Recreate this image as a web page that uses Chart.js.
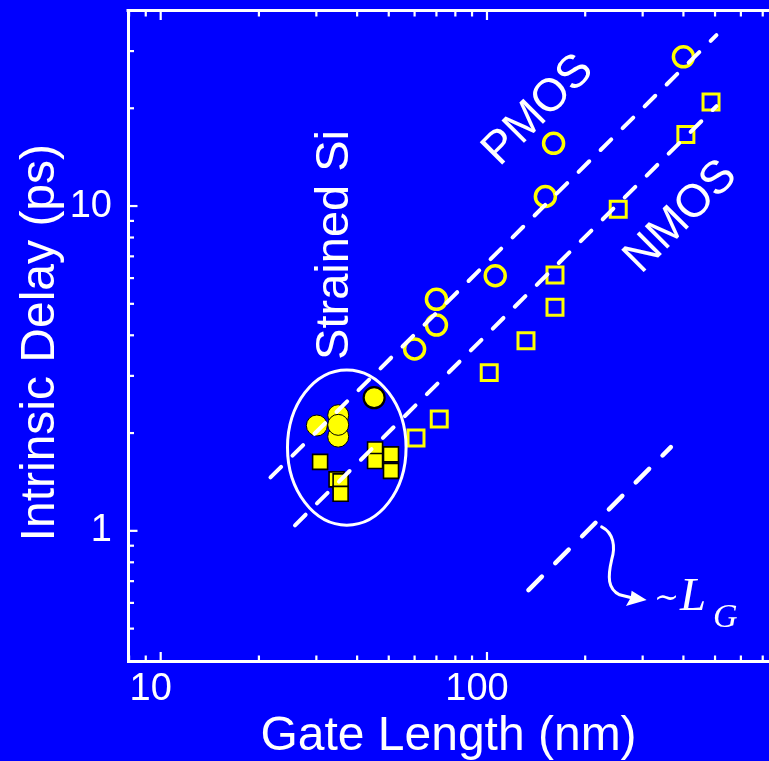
<!DOCTYPE html>
<html>
<head>
<meta charset="utf-8">
<title>Intrinsic delay vs gate length</title>
<script src="https://cdn.jsdelivr.net/npm/chart.js@4.4.1/dist/chart.umd.min.js"></script>
<style>
  html, body { margin: 0; padding: 0; background: #0000ff; overflow: hidden; }
  #wrap { position: relative; width: 769px; height: 761px; }
</style>
</head>
<body>
<div id="wrap"><canvas id="chart"></canvas></div>
<script>
// Intrinsic delay vs. gate length, log-log

// Data (gate length in nm, delay in ps)
const pmosGate = [60, 70, 70, 106, 151, 160, 400];
const pmosDelay = [3.63, 4.30, 5.16, 6.10, 10.7, 15.6, 28.8];

const nmosGate = [60.6, 71.4, 101.6, 131.7, 161.6, 161.6, 252.5, 407, 486];
const nmosDelay = [1.93, 2.21, 3.07, 3.85, 4.88, 6.13, 9.77, 16.6, 20.9];

const strainedPGate = [30.1, 35.0, 35.0, 35.0, 45.1];
const strainedPDelay = [2.11, 2.27, 1.95, 2.12, 2.57];

const strainedNGate = [30.8, 34.6, 35.6, 35.6, 45.4, 45.4, 50.8, 50.8];
const strainedNDelay = [1.63, 1.44, 1.42, 1.30, 1.78, 1.64, 1.72, 1.53];

// dashed guide lines (end points)
const pmosFitGate = [21.7, 505];
const pmosFitDelay = [1.46, 33.6];
const nmosFitGate = [25.8, 505];
const nmosFitDelay = [1.04, 20.3];
const slopeGate = [134, 366];
const slopeDelay = [0.657, 1.81];

// axes
const xRange = [7.94, 731.7];
const yRange = [0.396, 40];
const xTickValues = [8, 9, 10, 20, 30, 40, 50, 60, 70, 80, 90, 100, 200, 300, 400, 500, 600, 700];
const xTickLabels = [10, 100];
const yTickValues = [0.5, 0.6, 0.7, 0.8, 0.9, 1, 2, 3, 4, 5, 6, 7, 8, 9, 10, 20, 30];
const yTickLabels = [1, 10];

// annotations, placed in data coordinates
const ellipseGate = [24.47, 56.5];
const ellipseDelay = [1.041, 3.13];
const noteText = ['Strained Si', 'PMOS', 'NMOS'];
const noteGate = [34.2, 143.8, 393];
const noteDelay = [7.59, 19.7, 9.25];
const noteAngle = [-90, -45, -45];
const arrowStart = {x: 224.6, y: 1.029};
const slopeNote = {x: 327.3, y: 0.570};

const WHITE = '#ffffff';
const YELLOW = '#ffff00';
const BLUE = '#0000ff';
const SANS = "'Liberation Sans', Arial, sans-serif";
const SERIF = "'Liberation Serif', 'Times New Roman', serif";

function toPoints(xs, ys) {
    return xs.map((v, i) => ({x: v, y: ys[i]}));
}

function isDecade(v) {
    const l = Math.log10(v);
    return Math.abs(l - Math.round(l)) < 1e-9;
}

// background, inward ticks, frame top and the hand-drawn notes
const overlay = {
    id: 'overlay',
    beforeDraw(chart) {
        const ctx = chart.ctx;
        ctx.save();
        ctx.fillStyle = BLUE;
        ctx.fillRect(0, 0, chart.width, chart.height);
        ctx.restore();
    },
    afterDatasetsDraw(chart) {
        const {ctx, chartArea: a, scales: {x, y}} = chart;
        ctx.save();
        ctx.strokeStyle = WHITE;
        ctx.fillStyle = WHITE;

        // top frame line
        ctx.lineWidth = 3;
        ctx.beginPath();
        ctx.moveTo(a.left - 1.5, a.top);
        ctx.lineTo(a.right, a.top);
        ctx.stroke();

        // ticks point into the plot
        ctx.lineWidth = 2.2;
        x.ticks.forEach(t => {
            const px = x.getPixelForValue(t.value);
            const len = isDecade(t.value) ? 9.5 : 6;
            ctx.beginPath();
            ctx.moveTo(px, a.bottom);
            ctx.lineTo(px, a.bottom - len);
            ctx.moveTo(px, a.top);
            ctx.lineTo(px, a.top + len);
            ctx.stroke();
        });
        y.ticks.forEach(t => {
            const py = y.getPixelForValue(t.value);
            const len = isDecade(t.value) ? 9.5 : 6;
            ctx.beginPath();
            ctx.moveTo(a.left, py);
            ctx.lineTo(a.left + len, py);
            ctx.stroke();
        });

        // ellipse round the strained Si points
        const ex0 = x.getPixelForValue(ellipseGate[0]);
        const ex1 = x.getPixelForValue(ellipseGate[1]);
        const ey0 = y.getPixelForValue(ellipseDelay[0]);
        const ey1 = y.getPixelForValue(ellipseDelay[1]);
        ctx.lineWidth = 3;
        ctx.beginPath();
        ctx.ellipse((ex0 + ex1) / 2, (ey0 + ey1) / 2, (ex1 - ex0) / 2, (ey0 - ey1) / 2, 0, 0, Math.PI * 2);
        ctx.stroke();

        // text notes
        ctx.textAlign = 'center';
        ctx.textBaseline = 'middle';
        noteText.forEach((txt, i) => {
            ctx.save();
            ctx.translate(x.getPixelForValue(noteGate[i]), y.getPixelForValue(noteDelay[i]));
            ctx.rotate(noteAngle[i] * Math.PI / 180);
            ctx.font = (i === 0 ? '47px ' : '46px ') + SANS;
            ctx.fillText(txt, 0, 0);
            ctx.restore();
        });

        // curved arrow from the slope line to its label
        const ax = x.getPixelForValue(arrowStart.x);
        const ay = y.getPixelForValue(arrowStart.y);
        ctx.lineWidth = 3;
        ctx.lineCap = 'round';
        ctx.beginPath();
        ctx.moveTo(ax, ay);
        ctx.bezierCurveTo(ax + 12, ay + 6, ax + 14, ay + 20, ax + 10, ay + 33);
        ctx.bezierCurveTo(ax + 6, ay + 50, ax + 6, ay + 62, ax + 18, ay + 68);
        ctx.lineTo(ax + 30, ay + 71);
        ctx.stroke();
        ctx.beginPath();
        ctx.moveTo(ax + 45, ay + 73.3);
        ctx.lineTo(ax + 24.3, ay + 79.3);
        ctx.lineTo(ax + 29, ay + 71);
        ctx.lineTo(ax + 30, ay + 64);
        ctx.closePath();
        ctx.fill();

        // ~L_G
        const sx = x.getPixelForValue(slopeNote.x);
        const sy = y.getPixelForValue(slopeNote.y);
        ctx.textAlign = 'left';
        ctx.textBaseline = 'alphabetic';
        ctx.font = "30px 'DejaVu Serif', serif";
        ctx.fillText('\u223C', sx - 1, sy - 3);
        ctx.font = 'italic 47px ' + SERIF;
        ctx.fillText('L', sx + 25, sy);
        ctx.font = 'italic 34px ' + SERIF;
        ctx.fillText('G', sx + 58, sy + 17);

        ctx.restore();
    }
};

const guide = {
    showLine: true,
    borderColor: WHITE,
    borderWidth: 4,
    borderDash: [15, 16],
    borderCapStyle: 'round',
    pointRadius: 0,
    fill: false,
    order: 0
};

new Chart(document.getElementById('chart'), {
    type: 'scatter',
    data: {
        datasets: [
            Object.assign({label: 'PMOS fit', data: toPoints(pmosFitGate, pmosFitDelay)}, guide),
            Object.assign({label: 'NMOS fit', data: toPoints(nmosFitGate, nmosFitDelay)}, guide),
            Object.assign({label: '~LG', data: toPoints(slopeGate, slopeDelay)}, guide,
                {borderWidth: 4.5, borderDash: [19, 19]}),
            {
                label: 'PMOS',
                data: toPoints(pmosGate, pmosDelay),
                pointStyle: 'circle',
                pointRadius: 10,
                pointBorderWidth: 3.5,
                pointBorderColor: YELLOW,
                pointBackgroundColor: 'rgba(0,0,0,0)',
                order: 1
            },
            {
                label: 'NMOS',
                data: toPoints(nmosGate, nmosDelay),
                pointStyle: 'rect',
                pointRadius: 11.3,
                pointBorderWidth: 3,
                pointBorderColor: YELLOW,
                pointBackgroundColor: 'rgba(0,0,0,0)',
                order: 1
            },
            {
                label: 'Strained Si PMOS',
                data: toPoints(strainedPGate, strainedPDelay),
                pointStyle: 'circle',
                pointRadius: 10.5,
                pointBorderWidth: [1, 1, 1, 1, 2.2],
                pointBorderColor: '#000000',
                pointBackgroundColor: YELLOW,
                order: 1
            },
            {
                label: 'Strained Si NMOS',
                data: toPoints(strainedNGate, strainedNDelay),
                pointStyle: 'rect',
                pointRadius: 10.6,
                pointBorderWidth: 1.6,
                pointBorderColor: '#000000',
                pointBackgroundColor: YELLOW,
                order: 1
            }
        ]
    },
    options: {
        responsive: true,
        maintainAspectRatio: false,
        devicePixelRatio: 1,
        animation: false,
        events: [],
        layout: {autoPadding: false, padding: {top: 10.5, left: 0, right: 0, bottom: 0}},
        plugins: {
            legend: {display: false},
            tooltip: {enabled: false}
        },
        scales: {
            x: {
                type: 'logarithmic',
                position: 'bottom',
                min: xRange[0],
                max: xRange[1],
                afterBuildTicks: s => { s.ticks = xTickValues.map(v => ({value: v})); },
                afterFit: s => {
                    s.height = 99.5;
                    s.paddingLeft = 0;
                    s.paddingRight = 0;
                },
                grid: {display: false, drawTicks: false},
                border: {display: true, color: WHITE, width: 3},
                ticks: {
                    color: WHITE,
                    font: {family: SANS, size: 38, lineHeight: 1.2},
                    padding: 5,
                    labelOffset: -10,
                    autoSkip: false,
                    maxRotation: 0,
                    callback: v => xTickLabels.includes(v) ? String(v) : ''
                },
                title: {
                    display: true,
                    text: 'Gate Length (nm)',
                    color: WHITE,
                    font: {family: SANS, size: 48, lineHeight: 1},
                    padding: {top: 0, bottom: 0}
                }
            },
            y: {
                type: 'logarithmic',
                position: 'left',
                min: yRange[0],
                max: yRange[1],
                afterBuildTicks: s => { s.ticks = yTickValues.map(v => ({value: v})); },
                afterFit: s => {
                    s.width = 128;
                    s.paddingTop = 0;
                    s.paddingBottom = 0;
                },
                grid: {display: false, drawTicks: false},
                border: {display: true, color: WHITE, width: 3},
                ticks: {
                    color: WHITE,
                    font: {family: SANS, size: 38, lineHeight: 1.2},
                    padding: 16,
                    autoSkip: false,
                    callback: v => yTickLabels.includes(v) ? String(v) : ''
                },
                title: {
                    display: true,
                    // trailing space nudges the centred title down a little
                    text: 'Intrinsic Delay (ps) ',
                    color: WHITE,
                    font: {family: SANS, size: 48, lineHeight: 1},
                    padding: {top: 17, bottom: 0}
                }
            }
        }
    },
    plugins: [overlay]
});
</script>
</body>
</html>
